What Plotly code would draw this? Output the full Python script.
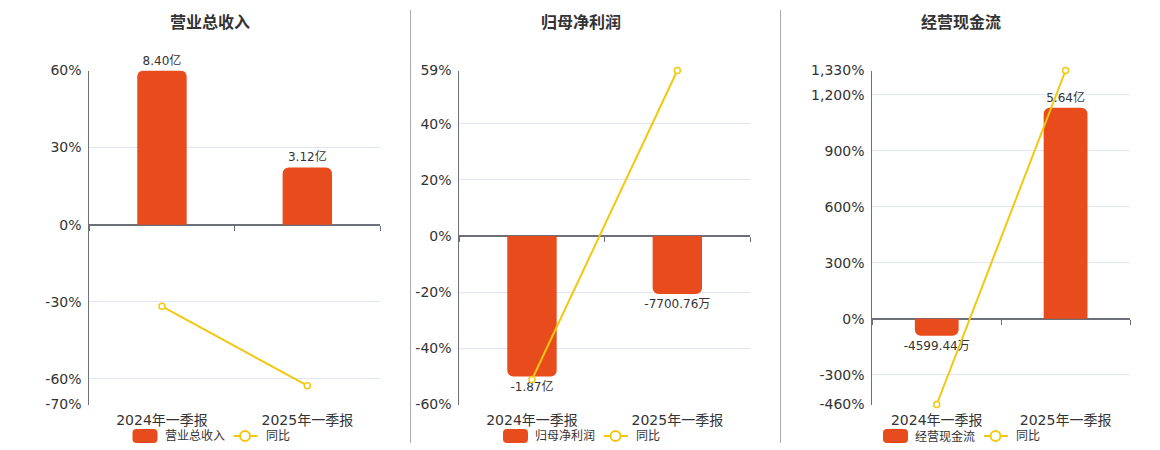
import plotly.graph_objects as go

# data
categories = ['2024年一季报', '2025年一季报']

titles = ['营业总收入', '归母净利润', '经营现金流']

# bar values in 亿, with their printed labels
revenue = [8.40, 3.12]
revenue_labels = ['8.40亿', '3.12亿']
net_profit = [-1.87, -0.770076]
net_profit_labels = ['-1.87亿', '-7700.76万']
cash_flow = [-0.459944, 5.64]
cash_flow_labels = ['-4599.44万', '5.64亿']

# year-on-year change, %
revenue_yoy = [-31.8, -62.7]
net_profit_yoy = [-51.1, 59.0]
cash_flow_yoy = [-460.0, 1330.0]

# left axis (percent) ticks
pct_ticks = [
    [-70, -60, -30, 0, 30, 60],
    [-60, -40, -20, 0, 20, 40, 59],
    [-460, -300, 0, 300, 600, 900, 1200, 1330],
]

BAR_COLOR = '#E84B1C'
LINE_COLOR = '#F2C80F'
AXIS_COLOR = '#6E7079'
GRID_COLOR = '#E0E6F1'
TEXT_COLOR = '#333333'
FONT = 'DejaVu Sans, Noto Sans CJK SC, sans-serif'

W, H = 1160, 450

# plot areas in pixels: (left, right), shared top/bottom
panels_x = [(89.3, 380), (459.3, 750), (872.3, 1130)]
top_px, bottom_px = 70.5, 404.5
# 亿 per percent, so bars share the zero line with the percent axis
bar_scale = [8.40 / 60, 1.87 / 50.0, 5.64 / 1130]
# horizontal centre of each panel's title / legend block
block_centers = [210, 580.5, 960.5]

bars = [revenue, net_profit, cash_flow]
bar_labels = [revenue_labels, net_profit_labels, cash_flow_labels]
yoys = [revenue_yoy, net_profit_yoy, cash_flow_yoy]


def px(x):
    return x / W


def py(y):
    return 1 - y / H


def fmt_pct(v):
    return f'{v:,}%'


def rounded_rect(x0, y0, x1, y1, r):
    # pixel box -> svg path in paper coords
    rx, ry = r / W, r / H
    a, b, c, d = px(x0), py(y1), px(x1), py(y0)
    return (f'M {a + rx},{b} L {c - rx},{b} Q {c},{b} {c},{b + ry} '
            f'L {c},{d - ry} Q {c},{d} {c - rx},{d} L {a + rx},{d} '
            f'Q {a},{d} {a},{d - ry} L {a},{b + ry} Q {a},{b} {a + rx},{b} Z')


fig = go.Figure()
layout = dict(
    width=W, height=H,
    margin=dict(l=0, r=0, t=0, b=0, autoexpand=False),
    paper_bgcolor='white', plot_bgcolor='white',
    font=dict(family=FONT, color=TEXT_COLOR),
    showlegend=False,
    annotations=[], shapes=[],
)

y_dom = [py(bottom_px), py(top_px)]
cat_range = [-0.5, len(categories) - 0.5]

for i in range(3):
    n = i + 1
    xa = 'x' if n == 1 else f'x{n}'
    xtick = f'x{n + 3}'
    ybar_n = 2 * i + 1
    ypct_n = 2 * i + 2
    ybar = 'y' if ybar_n == 1 else f'y{ybar_n}'
    ypct = f'y{ypct_n}'

    ticks = pct_ticks[i]
    pmin, pmax = ticks[0], ticks[-1]
    k = bar_scale[i]

    fig.add_trace(go.Bar(
        x=categories, y=bars[i], name=titles[i],
        xaxis=xa, yaxis=ybar,
        marker=dict(color=BAR_COLOR, cornerradius=6, line=dict(width=0)),
        width=0.34,
        text=bar_labels[i], textposition='outside', cliponaxis=False,
        constraintext='none',
        textfont=dict(size=12, color=TEXT_COLOR),
        hoverinfo='skip',
    ))
    # the yoy line sits on an overlaying x axis that carries the boundary ticks
    fig.add_trace(go.Scatter(
        x=categories, y=yoys[i], name='同比',
        xaxis=xtick, yaxis=ypct,
        mode='lines+markers', cliponaxis=False,
        line=dict(color=LINE_COLOR, width=2),
        marker=dict(symbol='circle', size=6, color='white',
                    line=dict(color=LINE_COLOR, width=1.5)),
        hoverinfo='skip',
    ))

    x0, x1 = panels_x[i]
    layout['xaxis' if n == 1 else f'xaxis{n}'] = dict(
        domain=[px(x0), px(x1)], anchor=ybar, range=cat_range,
        type='category', showgrid=False, showline=False, zeroline=False,
        ticks='', ticklabelstandoff=5,
        tickfont=dict(size=14, color=TEXT_COLOR),
    )
    layout['yaxis' if ybar_n == 1 else f'yaxis{ybar_n}'] = dict(
        domain=y_dom, anchor=xa, range=[pmin * k, pmax * k],
        visible=False, showgrid=False, zeroline=False,
    )
    layout[f'yaxis{ypct_n}'] = dict(
        domain=y_dom, anchor=xa, overlaying=ybar, side='left',
        range=[pmin, pmax], tickvals=ticks,
        ticktext=[fmt_pct(t) for t in ticks],
        tickfont=dict(size=14, color=TEXT_COLOR),
        showgrid=True, gridcolor=GRID_COLOR, gridwidth=1,
        zeroline=True, zerolinecolor=AXIS_COLOR, zerolinewidth=2,
        showline=True, linecolor=AXIS_COLOR, linewidth=1,
        ticks='', ticklabelstandoff=4,
    )
    # category boundary ticks hanging off the zero line
    zero_pos = y_dom[0] + (0 - pmin) / (pmax - pmin) * (y_dom[1] - y_dom[0])
    layout[f'xaxis{n + 3}'] = dict(
        domain=[px(x0), px(x1)], overlaying=xa, anchor='free',
        position=zero_pos, type='category', tickson='boundaries',
        range=cat_range,
        ticks='outside', ticklen=5, tickwidth=1, tickcolor=AXIS_COLOR,
        showticklabels=False, showgrid=False, zeroline=False, showline=False,
    )

    c = block_centers[i]
    layout['annotations'].append(dict(
        text=f'<b>{titles[i]}</b>', xref='paper', yref='paper',
        x=px(c), y=py(22.5), xanchor='center', yanchor='middle',
        showarrow=False, font=dict(size=16, color=TEXT_COLOR),
    ))

    # legend block: bar swatch, name, line swatch, 同比
    L = c - 77.5
    ly = 436
    layout['shapes'].append(dict(
        type='path', xref='paper', yref='paper',
        path=rounded_rect(L, ly - 7, L + 25, ly + 7, 4),
        fillcolor=BAR_COLOR, line=dict(width=0),
    ))
    layout['annotations'].append(dict(
        text=titles[i], xref='paper', yref='paper', x=px(L + 30), y=py(ly),
        xanchor='left', yanchor='middle', showarrow=False,
        font=dict(size=12, color=TEXT_COLOR),
    ))
    layout['shapes'].append(dict(
        type='line', xref='paper', yref='paper',
        x0=px(L + 101), x1=px(L + 125), y0=py(ly), y1=py(ly),
        line=dict(color=LINE_COLOR, width=2),
    ))
    layout['shapes'].append(dict(
        type='circle', xref='paper', yref='paper',
        x0=px(L + 107.5), x1=px(L + 117.5), y0=py(ly + 5), y1=py(ly - 5),
        fillcolor='white', line=dict(color=LINE_COLOR, width=2),
    ))
    layout['annotations'].append(dict(
        text='同比', xref='paper', yref='paper', x=px(L + 131), y=py(ly),
        xanchor='left', yanchor='middle', showarrow=False,
        font=dict(size=12, color=TEXT_COLOR),
    ))

# vertical separators between the panels
for sx in (410.5, 780.5):
    layout['shapes'].append(dict(
        type='line', xref='paper', yref='paper',
        x0=px(sx), x1=px(sx), y0=py(443), y1=py(10),
        line=dict(color='#AAAAAA', width=1),
    ))

fig.update_layout(**layout)
fig.write_html('out.html', config={'displayModeBar': False},
               post_script="document.body.style.margin='0px';")
